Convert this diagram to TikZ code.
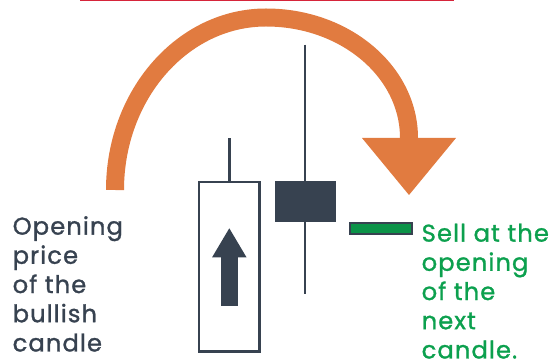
\documentclass[tikz,border=0pt]{standalone}
\usepackage{fontspec}
\setmainfont{Poppins}[FakeBold=1.2, LetterSpace=4.5]
\usetikzlibrary{arrows.meta}
\definecolor{slate}{RGB}{55,66,80}
\definecolor{swoopcol}{RGB}{225,123,64}
\definecolor{sellgreen}{RGB}{12,160,78}
\definecolor{barred}{RGB}{214,36,58}

\begin{document}
\begin{tikzpicture}[
    x=1pt, y=1pt,
    candle/.style={draw=slate, line width=2.5pt, fill=white, inner sep=0pt,
                   minimum width=60.8pt, minimum height=169.5pt},
    body/.style={fill=slate, inner sep=0pt, minimum width=61pt, minimum height=40.7pt},
    wick/.style={slate, line width=2.7pt},
    exitbar/.style={draw=slate, fill=sellgreen!92!black, line width=2pt, inner sep=0pt,
                    minimum width=61.4pt, minimum height=10.7pt},
    note/.style={align=left, inner sep=0pt, font=\fontsize{24.2}{29.2}\selectfont},
    swoop/.style={swoopcol, line width=18pt,
                  -{Triangle[width=94pt, length=57pt, line width=0pt]}},
    uparr/.style={slate, line width=17.6pt,
                  -{Triangle[width=34.4pt, length=29pt, line width=0pt]}}
  ]
    \useasboundingbox (0,0) rectangle (555,364);
    \draw[barred, line width=1.8pt] (80,363.4) -- (454,363.4);

    % candles
    \node[candle] (bull) at (229.3,97) {};
    \draw[wick] (bull.north) -- ++(0,43.3) coordinate (bulltop);
    \coordinate (upbase) at (229.3,58);
    \coordinate (uptip) at (229.3,135.7);
    \draw[uparr] (upbase) -- (uptip);

    \draw[wick] (305,319.4) coordinate (beartop) -- (305,69.7) coordinate (bearlow);
    \node[body] (bear) at (305,162.65) {};

    \node[exitbar] (sell) at (381,135.65) {};

    % the big arrow over the candles
    \coordinate (arcstart) at (115,174);
    \coordinate (arctop) at (266,346.5);
    \coordinate (arcend) at (409,169);
    \draw[swoop] (arcstart) .. controls (115,269.2) and (182.6,346.5) .. (arctop)
      .. controls (345,346.5) and (409,292.5) .. (409,226) -- (arcend);

    % texts
    \node[note, text=slate, anchor=north west] (opentxt) at (12.5,148)
      {Opening\\price\\of the\\bullish\\candle};
    \node[note, text=sellgreen, anchor=north west] (selltxt) at (421.5,140.5)
      {Sell at the\\opening\\of the\\next\\candle.};
  \end{tikzpicture}
\end{document}
